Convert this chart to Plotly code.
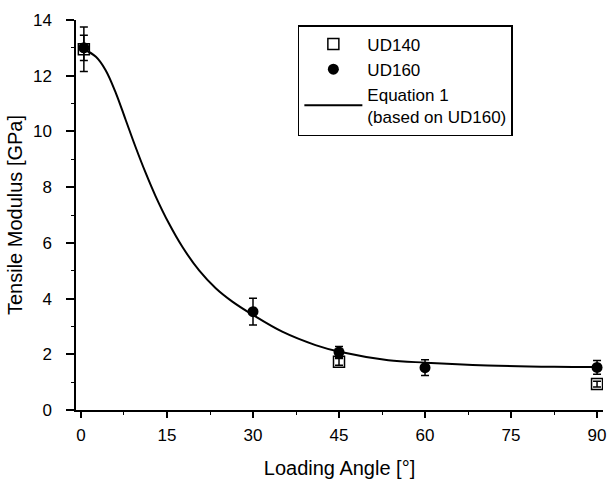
import plotly.graph_objects as go

# Data
ud140_angle = [0.5, 45, 90]
ud140_mod = [12.95, 1.73, 0.93]
ud140_err = [0.8, 0.12, 0.1]

ud160_angle = [0.5, 30, 45, 60, 90]
ud160_mod = [13.0, 3.53, 2.08, 1.52, 1.53]
ud160_err = [0.45, 0.48, 0.2, 0.28, 0.25]

eq_angle = [0.5, 2.6, 4.3, 6.1, 7.8, 9.5, 11.3, 13.0, 15.3, 17.7, 20.6, 23.5, 26.4,
            30.0, 35.1, 40.9, 45.1, 53.6, 60.1, 70.9, 82.5, 90.0]
eq_mod = [12.95, 12.68, 12.2, 11.37, 10.41, 9.45, 8.50, 7.68, 6.71, 5.85, 5.01, 4.37, 3.89,
          3.41, 2.81, 2.33, 2.09, 1.79, 1.70, 1.60, 1.55, 1.54]

x_ticks = [0, 15, 30, 45, 60, 75, 90]
y_ticks = [0, 2, 4, 6, 8, 10, 12, 14]

FONT = "Arial, 'Liberation Sans', sans-serif"

fig = go.Figure()
fig.add_trace(go.Scatter(
    x=ud140_angle, y=ud140_mod, mode="markers", name="UD140",
    marker=dict(symbol="square-open", size=11, color="black", line=dict(width=1.5)),
    error_y=dict(type="data", array=ud140_err, color="black", thickness=1.5, width=4),
))
fig.add_trace(go.Scatter(
    x=ud160_angle, y=ud160_mod, mode="markers", name="UD160",
    marker=dict(symbol="circle", size=11, color="black"),
    error_y=dict(type="data", array=ud160_err, color="black", thickness=1.5, width=4),
))
fig.add_trace(go.Scatter(
    x=eq_angle, y=eq_mod, mode="lines", name="Equation 1<br>(based on UD160)",
    line=dict(color="black", width=2, shape="spline", smoothing=1.0),
))

fig.update_layout(
    width=614, height=484,
    margin=dict(l=76, r=8, t=20, b=74),
    paper_bgcolor="white", plot_bgcolor="white",
    font=dict(family=FONT, color="black", size=17),
    legend=dict(
        x=0.421, y=0.987, xanchor="left", yanchor="top",
        bordercolor="black", borderwidth=1.5, bgcolor="white",
        font=dict(size=17), itemwidth=58, tracegroupgap=0,
    ),
    showlegend=True,
)
fig.update_xaxes(
    range=[-0.87, 91.04], tickvals=x_ticks, ticks="outside", ticklen=6, tickwidth=1.5,
    tickcolor="black", showline=True, linecolor="black", linewidth=1.5,
    showgrid=False, zeroline=False, tickfont=dict(size=17), ticklabelstandoff=3,
    minor=dict(dtick=7.5, tick0=0, ticks="outside", ticklen=3, tickcolor="black", tickwidth=1),
    title=dict(text="Loading Angle [°]", font=dict(size=20), standoff=17),
)
fig.update_yaxes(
    range=[0, 14], tickvals=y_ticks, ticks="outside", ticklen=8, tickwidth=1.5,
    tickcolor="black", showline=True, linecolor="black", linewidth=1.5,
    showgrid=False, zeroline=False, tickfont=dict(size=17), ticklabelstandoff=11,
    minor=dict(dtick=1, tick0=0, ticks="outside", ticklen=3, tickcolor="black", tickwidth=1),
    title=dict(text="Tensile Modulus [GPa]", font=dict(size=20), standoff=5),
)

fig.write_html("out.html")
